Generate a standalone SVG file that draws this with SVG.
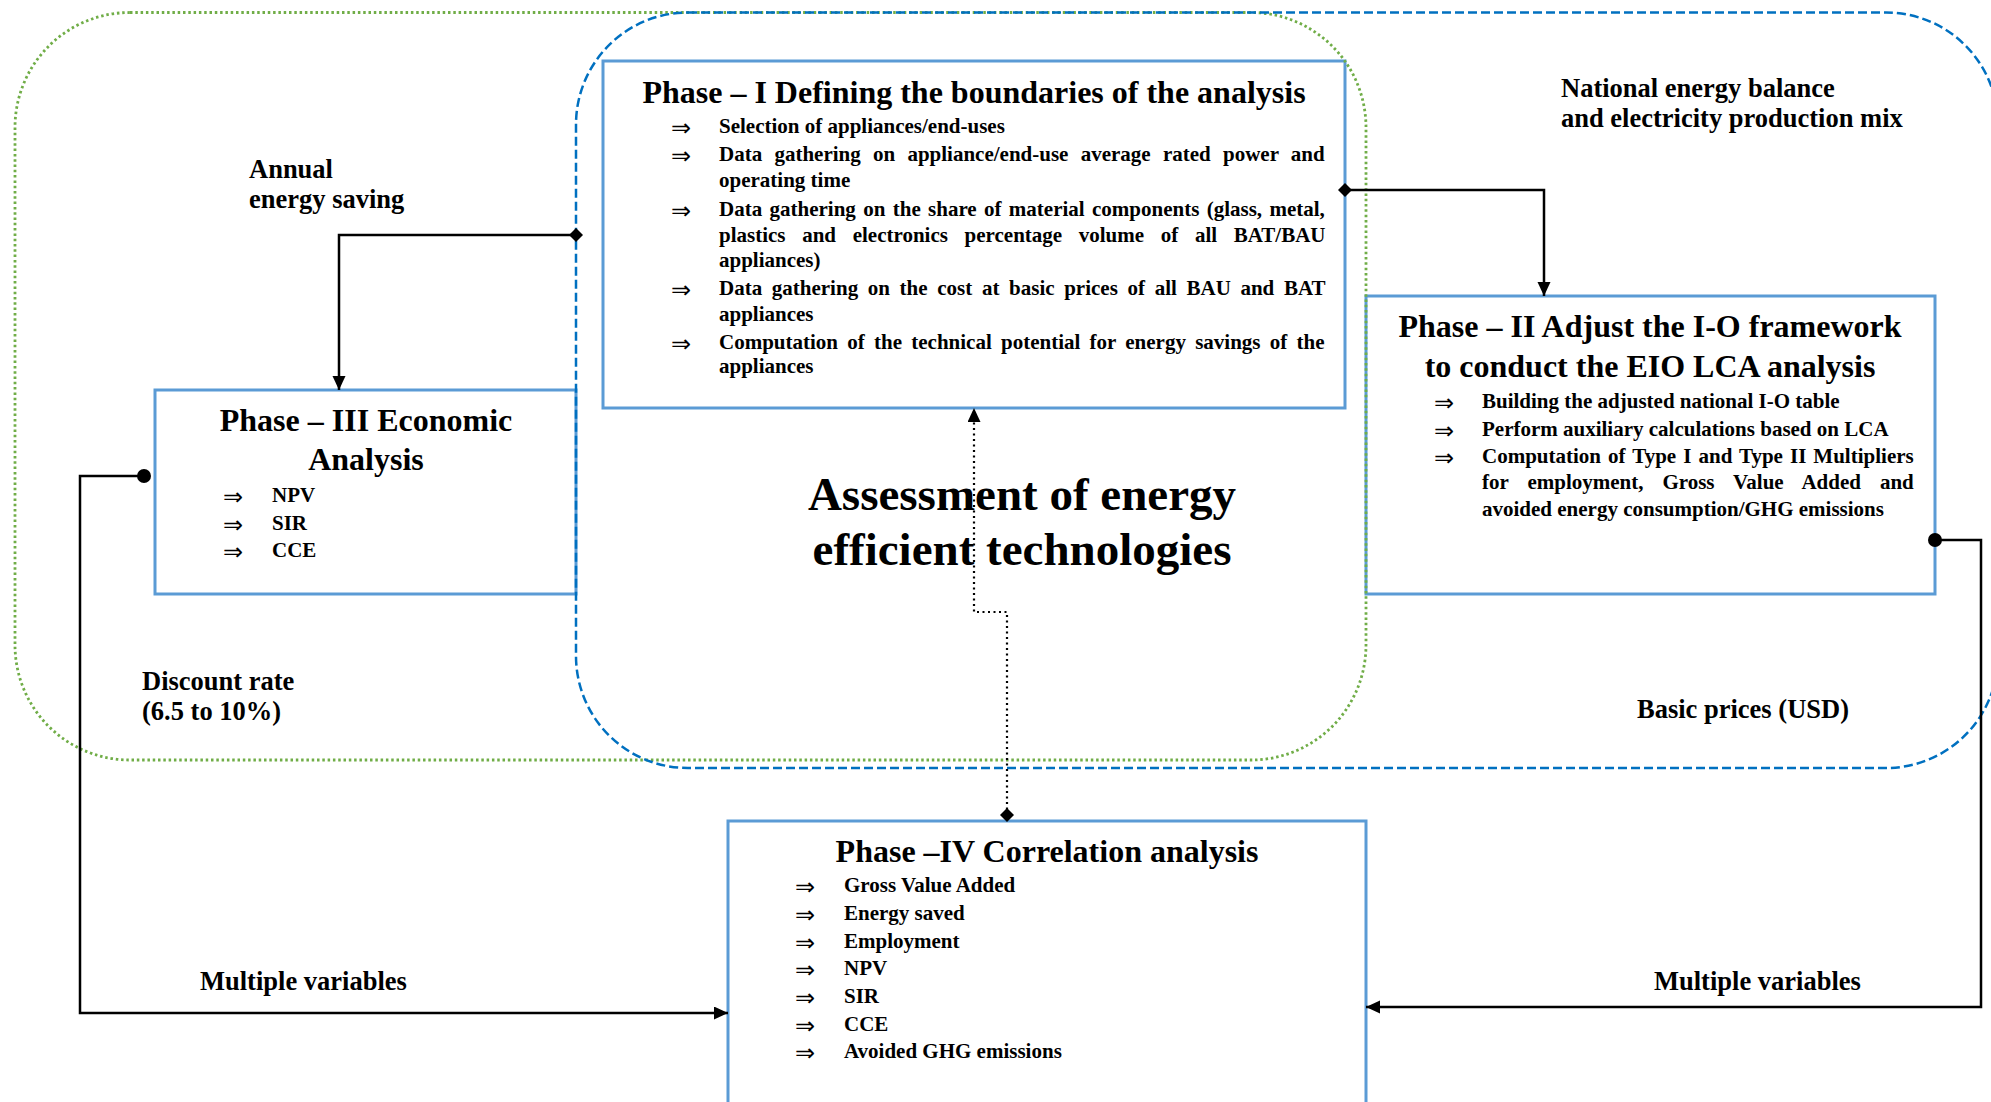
<svg xmlns="http://www.w3.org/2000/svg" width="1991" height="1102" viewBox="0 0 1991 1102">
  <style>
    .t { font-family: "Liberation Serif", "Times New Roman", serif; font-weight: bold; fill: #000; }
    .h { font-size: 32px; text-anchor: middle; }
    .b { font-size: 21px; }
    .lbl { font-size: 26.5px; }
    .big { font-size: 47px; text-anchor: middle; }
    .ar { font-family: "DejaVu Sans", sans-serif; font-size: 24px; fill: #000; }
    .box { fill: #fff; stroke: #5B9BD5; stroke-width: 3; }
    .econ { fill: none; stroke: #70AD47; stroke-width: 2.8; stroke-dasharray: 2.5 2.8; }
    .eio { fill: none; stroke: #0070C0; stroke-width: 2.5; stroke-dasharray: 9 4; }
    .wire { fill: none; stroke: #000; stroke-width: 2.5; }
    .dot { fill: none; stroke: #000; stroke-width: 2.2; stroke-dasharray: 2 3.5; }
  </style>
  <defs>
    <marker id="arrow" markerUnits="userSpaceOnUse" markerWidth="16" markerHeight="14" refX="14" refY="6.5" orient="auto">
      <path d="M0,0 L14,6.5 L0,13 z" fill="#000" stroke="none"/>
    </marker>
    <marker id="diamond" markerUnits="userSpaceOnUse" markerWidth="16" markerHeight="16" refX="7" refY="7" orient="auto">
      <path d="M0,7 L7,0 L14,7 L7,14 z" fill="#000" stroke="none"/>
    </marker>
    <marker id="dot" markerUnits="userSpaceOnUse" markerWidth="16" markerHeight="16" refX="8" refY="8" orient="auto">
      <circle cx="8" cy="8" r="7" fill="#000" stroke="none"/>
    </marker>
  </defs>

  <rect width="1991" height="1102" fill="#fff"/>

  <!-- Phase I -->
  <g id="phase1">
    <rect class="box" x="603" y="61" width="742" height="347"/>
    <text class="t h" x="974" y="103">Phase – I Defining the boundaries of the analysis</text>
    <g class="ar">
      <text x="671" y="136">⇒</text>
      <text x="671" y="164">⇒</text>
      <text x="671" y="219">⇒</text>
      <text x="671" y="298">⇒</text>
      <text x="671" y="352">⇒</text>
    </g>
    <g class="t b">
      <text x="719" y="133">Selection of appliances/end-uses</text>
      <text x="719" y="161" word-spacing="7">Data gathering on appliance/end-use average rated power and</text>
      <text x="719" y="187">operating time</text>
      <text x="719" y="216" word-spacing="2.1">Data gathering on the share of material components (glass, metal,</text>
      <text x="719" y="242" word-spacing="11.4">plastics and electronics percentage volume of all BAT/BAU</text>
      <text x="719" y="267">appliances)</text>
      <text x="719" y="295" word-spacing="4.4">Data gathering on the cost at basic prices of all BAU and BAT</text>
      <text x="719" y="321">appliances</text>
      <text x="719" y="349" word-spacing="4">Computation of the technical potential for energy savings of the</text>
      <text x="719" y="373">appliances</text>
    </g>
  </g>

  <!-- Phase II -->
  <g id="phase2">
    <rect class="box" x="1366" y="296" width="569" height="298"/>
    <text class="t h" x="1650" y="337">Phase – II Adjust the I-O framework</text>
    <text class="t h" x="1650" y="377">to conduct the EIO LCA analysis</text>
    <g class="ar">
      <text x="1434" y="411">⇒</text>
      <text x="1434" y="439">⇒</text>
      <text x="1434" y="466">⇒</text>
    </g>
    <g class="t b">
      <text x="1482" y="408">Building the adjusted national I-O table</text>
      <text x="1482" y="436">Perform auxiliary calculations based on LCA</text>
      <text x="1482" y="463" word-spacing="1.8">Computation of Type I and Type II Multipliers</text>
      <text x="1482" y="489" word-spacing="13.7">for employment, Gross Value Added and</text>
      <text x="1482" y="516">avoided energy consumption/GHG emissions</text>
    </g>
  </g>

  <!-- Phase III -->
  <g id="phase3">
    <rect class="box" x="155" y="390" width="421" height="204"/>
    <text class="t h" x="366" y="431">Phase – III Economic</text>
    <text class="t h" x="366" y="470">Analysis</text>
    <g class="ar">
      <text x="223" y="505">⇒</text>
      <text x="223" y="533">⇒</text>
      <text x="223" y="560">⇒</text>
    </g>
    <g class="t b">
      <text x="272" y="502">NPV</text>
      <text x="272" y="530">SIR</text>
      <text x="272" y="557">CCE</text>
    </g>
  </g>

  <!-- Phase IV -->
  <g id="phase4">
    <rect class="box" x="728" y="821" width="638" height="300"/>
    <text class="t h" x="1047" y="862">Phase –IV Correlation analysis</text>
    <g class="ar">
      <text x="795" y="895">⇒</text>
      <text x="795" y="923">⇒</text>
      <text x="795" y="951">⇒</text>
      <text x="795" y="978">⇒</text>
      <text x="795" y="1006">⇒</text>
      <text x="795" y="1034">⇒</text>
      <text x="795" y="1061">⇒</text>
    </g>
    <g class="t b">
      <text x="844" y="892">Gross Value Added</text>
      <text x="844" y="920">Energy saved</text>
      <text x="844" y="948">Employment</text>
      <text x="844" y="975">NPV</text>
      <text x="844" y="1003">SIR</text>
      <text x="844" y="1031">CCE</text>
      <text x="844" y="1058">Avoided GHG emissions</text>
    </g>
  </g>

  <!-- scope boundaries: economic analysis (green) and EIO-LCA (blue) -->
  <g id="boundaries">
    <rect id="econ-scope" class="econ" x="15" y="12.5" width="1351" height="747.5" rx="115" ry="115"/>
    <rect id="eio-scope" class="eio" x="576" y="12.5" width="1422" height="755.5" rx="112" ry="112"/>
  </g>

  <!-- central heading and flow labels -->
  <g id="labels" class="t">
    <text class="big" x="1022" y="510">Assessment of energy</text>
    <text class="big" x="1022" y="565">efficient technologies</text>
    <text class="lbl" x="249" y="178">Annual</text>
    <text class="lbl" x="249" y="208">energy saving</text>
    <text class="lbl" x="1561" y="97">National energy balance</text>
    <text class="lbl" x="1561" y="127">and electricity production mix</text>
    <text class="lbl" x="142" y="690">Discount rate</text>
    <text class="lbl" x="142" y="720">(6.5 to 10%)</text>
    <text class="lbl" x="200" y="990">Multiple variables</text>
    <text class="lbl" x="1654" y="990">Multiple variables</text>
    <text class="lbl" x="1637" y="718">Basic prices (USD)</text>
  </g>

  <!-- connectors -->
  <g id="connectors">
    <path class="wire" d="M576,235 H339 V390" marker-start="url(#diamond)" marker-end="url(#arrow)"/>
    <path class="wire" d="M1345,190 H1544 V296" marker-start="url(#diamond)" marker-end="url(#arrow)"/>
    <path class="wire" d="M144,476 H80 V1013 H728" marker-start="url(#dot)" marker-end="url(#arrow)"/>
    <path class="wire" d="M1935,540 H1981 V1007 H1366" marker-start="url(#dot)" marker-end="url(#arrow)"/>
    <path class="dot" d="M1007,815 V612 H974 V408" marker-start="url(#diamond)" marker-end="url(#arrow)"/>
  </g>
</svg>
